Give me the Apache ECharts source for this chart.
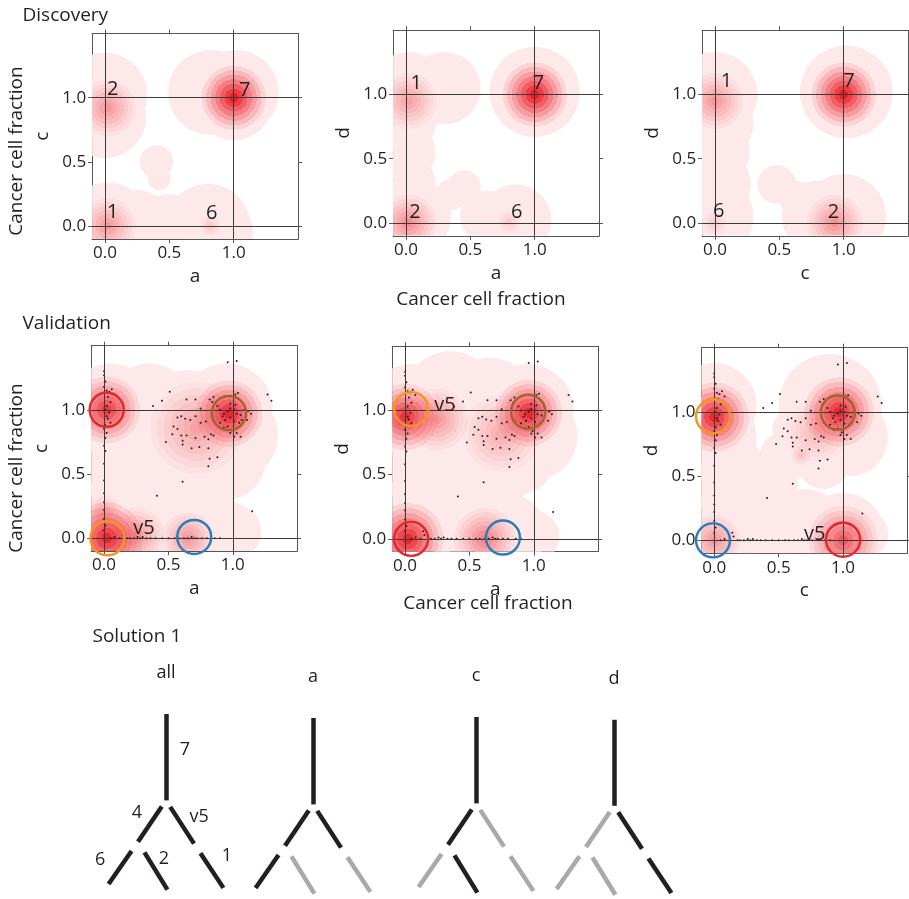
<!DOCTYPE html>
<html><head><meta charset="utf-8">
<script src="https://cdn.jsdelivr.net/npm/echarts@6.0.0/dist/echarts.min.js"></script>
<style>html,body{margin:0;padding:0;background:#fff}#c{width:909px;height:899px}</style>
</head><body><div id="c"></div>
<script>
// ---------- DATA ----------
const AXIS_RANGE = [-0.1, 1.5];
const TICK_VALUES = [0, 0.5, 1];
const GUIDE_VALUES = [0, 1];

// Discovery, a vs c : pale KDE floor [x,y,radius], KDE peaks [x,y,radius,peak], cluster labels
const discAC_pale = [[0.0,1.02,0.33],[0.0,0.85,0.32],[0.82,1.04,0.33],[1.02,1.04,0.33],[1.0,0.98,0.31],[0.4,0.5,0.13],[0.42,0.37,0.09],[0.02,0.02,0.32],[0.25,0.0,0.28],[0.5,-0.05,0.3],[0.8,0.0,0.33],[0.9,-0.05,0.25]];
const discAC_peaks = [[1.0,1.0,0.25,1.0],[0.02,0.92,0.22,0.4],[0.02,0.0,0.22,0.38],[0.82,0.0,0.08,0.18]];
const discAC_labels = [['2',0.06,1.065],['7',1.085,1.06],['1',0.06,0.105],['6',0.83,0.1]];

// Discovery, a vs d
const discAD_pale = [[0.02,1.05,0.28],[0.3,1.05,0.28],[0.0,0.8,0.24],[0.0,0.55,0.23],[0.0,0.3,0.23],[0.05,0.05,0.3],[0.45,0.28,0.13],[0.35,0.22,0.12],[0.62,0.05,0.2],[0.85,0.02,0.28],[1.0,1.02,0.35]];
const discAD_peaks = [[1.0,1.0,0.25,1.0],[0.02,0.95,0.22,0.35],[0.02,0.0,0.22,0.45],[0.8,0.01,0.09,0.15]];
const discAD_labels = [['1',0.08,1.09],['7',1.03,1.09],['2',0.07,0.086],['6',0.86,0.086]];

// Discovery, c vs d
const discCD_pale = [[0.0,1.0,0.33],[0.0,0.78,0.3],[0.0,0.55,0.27],[0.0,0.3,0.28],[0.0,0.05,0.3],[1.02,1.02,0.36],[0.48,0.3,0.15],[0.62,0.2,0.13],[0.8,0.05,0.28],[1.0,0.05,0.33]];
const discCD_peaks = [[1.0,1.0,0.25,1.0],[0.0,0.95,0.22,0.4],[0.0,0.0,0.1,0.15],[0.93,0.0,0.22,0.42]];
const discCD_labels = [['1',0.09,1.1],['7',1.04,1.1],['6',0.03,0.094],['2',0.92,0.086]];

// Validation, a vs c
const valAC_pale = [[0.05,1.0,0.36],[0.35,1.02,0.34],[0.65,0.95,0.36],[0.95,1.0,0.36],[1.0,0.8,0.35],[0.95,0.6,0.3],[0.2,0.6,0.4],[0.55,0.55,0.4],[0.75,0.5,0.3],[0.1,0.15,0.35],[0.45,0.1,0.3],[0.8,0.08,0.3],[1.0,0.05,0.22]];
const valAC_peaks = [[0.02,1.0,0.26,0.85],[0.97,0.97,0.26,0.95],[0.72,0.86,0.36,0.35],[0.02,0.0,0.28,0.95],[0.25,0.02,0.22,0.4],[0.65,0.0,0.2,0.4],[0.0,0.2,0.14,0.25]];
const valAC_circles = [[0.02,1.0,'red'],[0.97,0.975,'brown'],[0.026,0.0,'orange'],[0.70,0.01,'blue']];
const valAC_labels = [['v5',0.31,0.08]];

// Validation, a vs d
const valAD_pale = [[0.05,1.0,0.36],[0.35,1.1,0.36],[0.65,1.05,0.36],[0.95,1.0,0.36],[1.0,0.8,0.34],[0.9,0.6,0.25],[0.2,0.6,0.4],[0.55,0.55,0.4],[0.7,0.45,0.25],[0.1,0.15,0.35],[0.45,0.1,0.3],[0.8,0.05,0.3],[1.0,0.02,0.2]];
const valAD_peaks = [[0.0,0.95,0.26,0.9],[0.25,0.93,0.24,0.4],[0.96,0.98,0.26,0.95],[0.75,0.82,0.3,0.3],[0.02,0.0,0.28,0.95],[0.62,0.0,0.24,0.5]];
const valAD_circles = [[0.047,1.01,'orange'],[0.956,0.99,'brown'],[0.047,0.0,'red'],[0.76,0.01,'blue']];
const valAD_labels = [['v5',0.31,1.04]];

// Validation, c vs d
const valCD_pale = [[0.0,1.05,0.33],[0.0,0.8,0.33],[0.05,0.55,0.33],[0.05,0.3,0.33],[0.05,0.05,0.33],[0.9,1.05,0.4],[0.65,0.85,0.2],[0.55,0.65,0.2],[0.45,0.45,0.2],[1.05,0.8,0.3],[0.85,0.6,0.2],[0.4,0.1,0.3],[0.7,0.1,0.3],[1.0,0.05,0.32],[1.15,0.05,0.2]];
const valCD_peaks = [[0.0,0.96,0.27,0.95],[0.97,1.0,0.27,0.95],[1.0,0.0,0.27,0.7],[0.0,0.0,0.2,0.4],[0.67,0.66,0.08,0.18],[0.8,0.85,0.24,0.25]];
const valCD_circles = [[-0.01,0.966,'orange'],[0.96,0.995,'brown'],[-0.01,0.0,'blue'],[1.0,0.005,'red']];
const valCD_labels = [['v5',0.78,0.045]];

// validation mutations (same dot pattern in all three validation panels)
const valDots = [
 [0.96,1.37],[1.03,1.38],[1.27,1.12],[1.30,1.07],[0.51,1.14],[0.38,1.03],[0.45,1.07],[0.64,1.08],[0.71,1.08],[0.82,1.08],[0.85,1.1],[1.02,1.12],
 [0.57,0.94],[0.6,0.95],[0.63,0.93],[0.67,0.92],[0.71,0.95],[0.54,0.87],[0.57,0.85],[0.53,0.81],[0.48,0.75],[0.6,0.8],[0.61,0.76],[0.61,0.73],
 [0.64,0.8],[0.68,0.7],[0.71,0.78],[0.74,0.71],[0.78,0.79],[0.81,0.77],[0.83,0.81],[0.85,0.8],[0.81,0.7],[0.82,0.62],[0.81,0.56],[0.88,0.63],
 [0.79,0.91],[0.85,0.92],[0.75,0.9],
 [0.88,1.03],[0.9,1.0],[0.93,0.97],[0.96,0.99],[0.98,1.01],[1.01,1.0],[1.03,0.97],[1.06,0.96],[1.09,1.0],[1.12,0.99],[0.92,0.95],[0.94,0.92],
 [0.98,0.94],[1.01,0.91],[1.05,0.9],[1.07,0.92],[0.98,1.05],[1.02,1.04],[0.96,0.87],[0.99,0.84],[1.03,0.82],[1.06,0.79],[1.01,0.79],[0.98,0.82],
 [1.11,0.92],[0.9,0.9],[0.93,0.86],[1.14,0.97],[1.04,1.13],[0.84,1.06],[0.75,1.01],
 [0.61,0.44],[0.41,0.33],[1.15,0.21],
 [0.0,1.3],[0.0,1.27],[0.01,1.22],[0.0,1.18],[0.02,1.15],[0.04,1.14],[0.06,1.16],[0.08,1.12],[0.03,1.1],[0.05,1.06],[0.02,1.03],[0.01,1.0],
 [0.04,0.98],[0.02,0.95],[0.03,0.93],[0.05,0.9],[0.01,0.88],[0.0,0.85],[0.02,0.82],[0.01,0.78],[0.0,0.72],[0.01,0.68],[0.0,0.58],[0.0,0.45],
 [0.0,0.35],[0.0,0.28],[0.0,0.22],[0.0,0.15],[0.01,0.1],[0.0,0.06],
 [0.05,0.0],[0.08,0.01],[0.12,0.0],[0.15,0.03],[0.18,0.0],[0.2,0.0],[0.23,0.0],[0.26,0.01],[0.28,0.0],[0.3,0.01],[0.33,0.0],[0.36,0.0],
 [0.4,0.0],[0.45,0.0],[0.5,0.0],[0.55,0.0],[0.58,0.0],[0.62,0.0],[0.65,0.0],[0.68,0.01],[0.7,0.0],[0.72,0.0],[0.76,0.0],[0.8,0.0],[0.86,0.0],
 [0.9,0.0],[0.14,0.06]
];

// phylogeny (tree layout units: lateral, depth)
const treeNodes = {root:[0,0], n7:[0,2.4], n4:[-1,3.55], nv5:[1,3.6], n6:[-2.05,4.72], n2:[0.05,4.88], n1:[2.05,4.83]};
const treeEdges = [['root','n7','7'],['n7','n4','4'],['n7','nv5','v5'],['n4','n6','6'],['n4','n2','2'],['nv5','n1','1']];
const treeNames = ['all','a','c','d'];
const treePresence = [[1,1,1,1,1,1],[1,1,1,1,0,0],[1,1,0,0,1,0],[1,0,1,0,0,1]];

// ---------- STYLE / LAYOUT ----------
const FONT = 'Open Sans';
const TXT = '#231f20';
const PALE = '#fde9ea';
const RING = {red:'#e3262b', orange:'#f7941d', blue:'#2b7bba', brown:'#a4622c'};
const panels = [
 {box:[92.1,33.5], pale:discAC_pale, peaks:discAC_peaks, labels:discAC_labels, xName:'a', yName:'c'},
 {box:[393.1,30.3], pale:discAD_pale, peaks:discAD_peaks, labels:discAD_labels, xName:'a', yName:'d'},
 {box:[702.1,30.3], pale:discCD_pale, peaks:discCD_peaks, labels:discCD_labels, xName:'c', yName:'d'},
 {box:[91.2,345.6], pale:valAC_pale, peaks:valAC_peaks, labels:valAC_labels, circles:valAC_circles, dots:valDots, xName:'a', yName:'c'},
 {box:[392.2,346.2], pale:valAD_pale, peaks:valAD_peaks, labels:valAD_labels, circles:valAD_circles, dots:valDots, xName:'a', yName:'d'},
 {box:[701.4,347.7], pale:valCD_pale, peaks:valCD_peaks, labels:valCD_labels, circles:valCD_circles, dots:valDots, xName:'c', yName:'d'}
];
const PW = 206, PH = 205.5;

function bandGradient(peak){
  const n = 7, stops = [];
  for (let i = 0; i < n; i++) {
    const t0 = i / n, t1 = (i + 1) / n;
    const a = (peak * Math.pow(1 - t0, 1.15)).toFixed(3);
    const col = 'rgba(237,28,36,' + a + ')';
    stops.push({offset:t0, color:col}, {offset:t1, color:col});
  }
  stops.push({offset:1, color:'rgba(237,28,36,0)'});
  return new echarts.graphic.RadialGradient(0.5, 0.5, 0.5, stops);
}

const grid = [], xAxis = [], yAxis = [], series = [];
function axisCommon(extra){
  return Object.assign({type:'value', min:AXIS_RANGE[0], max:AXIS_RANGE[1],
    axisLine:{show:true, onZero:false, lineStyle:{color:'#555', width:1}},
    axisTick:{show:true, customValues:TICK_VALUES, length:4, lineStyle:{color:'#555'}},
    splitLine:{show:false}}, extra);
}
const labelStyle = {customValues:TICK_VALUES, formatter:v => v.toFixed(1), color:TXT, fontSize:17, fontFamily:FONT};
const nameStyle = {color:TXT, fontSize:19, fontFamily:FONT};

panels.forEach((p, i) => {
  grid.push({left:p.box[0], top:p.box[1], width:PW, height:PH});
  const xi = xAxis.length, yi = yAxis.length;
  xAxis.push(axisCommon({gridIndex:i, position:'bottom', axisLabel:Object.assign({margin:6}, labelStyle),
    name:p.xName, nameLocation:'middle', nameGap:28, nameTextStyle:nameStyle}));
  xAxis.push(axisCommon({gridIndex:i, position:'top', axisLabel:{show:false}}));
  yAxis.push(axisCommon({gridIndex:i, position:'left', axisLabel:Object.assign({margin:6}, labelStyle),
    name:p.yName, nameLocation:'middle', nameGap:40, nameTextStyle:nameStyle}));
  yAxis.push(axisCommon({gridIndex:i, position:'right', axisLabel:{show:false}}));

  const mk = (data, kind, z) => ({type:'custom', coordinateSystem:'cartesian2d', xAxisIndex:xi, yAxisIndex:yi,
    clip:true, silent:true, z, data, renderItem(params, api){
      const c = api.coord([api.value(0), api.value(1)]);
      const r = api.size([api.value(2), 0])[0];
      const cs = params.coordSys;
      return {type:'group', clipPath:{type:'rect', shape:{x:cs.x, y:cs.y, width:cs.width, height:cs.height}},
        children:[{type:'circle', shape:{cx:c[0], cy:c[1], r},
          style:{fill: kind === 'pale' ? PALE : bandGradient(api.value(3))}}]};
    }});
  series.push(mk(p.pale, 'pale', 1));
  series.push(mk(p.peaks, 'peak', 2));
  if (p.dots) series.push({type:'scatter', xAxisIndex:xi, yAxisIndex:yi, z:4, silent:true,
    symbolSize:2, itemStyle:{color:TXT, opacity:1}, data:p.dots});
  if (p.circles) series.push({type:'scatter', xAxisIndex:xi, yAxisIndex:yi, z:5, silent:true, symbolSize:34,
    data:p.circles.map(c => ({value:[c[0], c[1]], itemStyle:{color:'rgba(0,0,0,0)', borderColor:RING[c[2]], borderWidth:2.4, opacity:1}}))});
  series.push({type:'scatter', xAxisIndex:xi, yAxisIndex:yi, z:6, silent:true, symbolSize:0,
    itemStyle:{color:TXT, opacity:1},
    label:{show:true, position:'inside', formatter:'{b}', color:TXT, fontSize:20, fontFamily:FONT, textBorderWidth:0},
    data:p.labels.map(l => ({name:l[0], value:[l[1], l[2]]})),
    markLine:{silent:true, symbol:'none', label:{show:false}, animation:false,
      lineStyle:{color:'#3a3a3a', width:1, type:'solid'},
      data:GUIDE_VALUES.map(v => ({xAxis:v})).concat(GUIDE_VALUES.map(v => ({yAxis:v})))}});
});

// trees
const TREE_X = [166, 313, 476, 614], TREE_TOP = [714, 718, 717, 720];
const UX = 28, UY = 36, DEPTH_MIN = -1.5, DEPTH_MAX = 5;
const SHRINK = {root:0, n7:0.15, n4:0.22, nv5:0.22};
const LABEL_OFF = {'7':[19,-7], '4':[-13,-11], 'v5':[17,-8], '6':[-20,-8], '2':[8,-12], '1':[15,-15]};
treeNames.forEach((nm, k) => {
  const gi = grid.length;
  grid.push({left:TREE_X[k] - 3 * UX, top:TREE_TOP[k] + DEPTH_MIN * UY, width:6 * UX, height:(DEPTH_MAX - DEPTH_MIN) * UY});
  const xi = xAxis.length, yi = yAxis.length;
  xAxis.push({gridIndex:gi, type:'value', min:-3, max:3, show:false});
  yAxis.push({gridIndex:gi, type:'value', min:DEPTH_MIN, max:DEPTH_MAX, inverse:true, show:false});
  const segs = treeEdges.map((e, j) => {
    const a = treeNodes[e[0]], b = treeNodes[e[1]], s = SHRINK[e[0]];
    const st = [a[0] + s * (b[0] - a[0]), a[1] + s * (b[1] - a[1])];
    return {st, en:b, label:e[2], on:treePresence[k][j]};
  });
  series.push({type:'lines', coordinateSystem:'cartesian2d', xAxisIndex:xi, yAxisIndex:yi, silent:true, z:3,
    data:segs.map(s => ({coords:[s.st, s.en], lineStyle:{color:s.on ? '#231f20' : '#a7a9ac', width:4.5, opacity:1, cap:'butt'}}))});
  const labs = [{name:nm, value:[0, -1.15]}];
  if (k === 0) segs.forEach(s => labs.push({name:s.label, value:[(s.st[0] + s.en[0]) / 2, (s.st[1] + s.en[1]) / 2],
    label:{offset:LABEL_OFF[s.label]}}));
  series.push({type:'scatter', xAxisIndex:xi, yAxisIndex:yi, silent:true, z:4, symbolSize:0,
    itemStyle:{color:TXT, opacity:1},
    label:{show:true, position:'inside', formatter:'{b}', color:TXT, fontSize:18, fontFamily:FONT, textBorderWidth:0},
    data:labs});
});

const txt = (text, x, y, rot, align) => ({type:'text', x, y, rotation:rot || 0, silent:true,
  style:{text, fill:TXT, fontSize:19, fontFamily:FONT, align:align || 'center', verticalAlign:'middle',
    textAlign:align || 'center', textVerticalAlign:'middle'}});

const option = {
  animation:false, backgroundColor:'#fff',
  grid, xAxis, yAxis, series,
  graphic:[
    txt('Discovery', 22.5, 16, 0, 'left'),
    txt('Validation', 22.5, 323.5, 0, 'left'),
    txt('Solution 1', 92.5, 637, 0, 'left'),
    txt('Cancer cell fraction', 17, 151, Math.PI / 2),
    txt('Cancer cell fraction', 17, 468, Math.PI / 2),
    txt('Cancer cell fraction', 481, 300),
    txt('Cancer cell fraction', 488, 604)
  ]
};
echarts.init(document.getElementById('c'), null, {renderer:'canvas'}).setOption(option);
</script></body></html>
